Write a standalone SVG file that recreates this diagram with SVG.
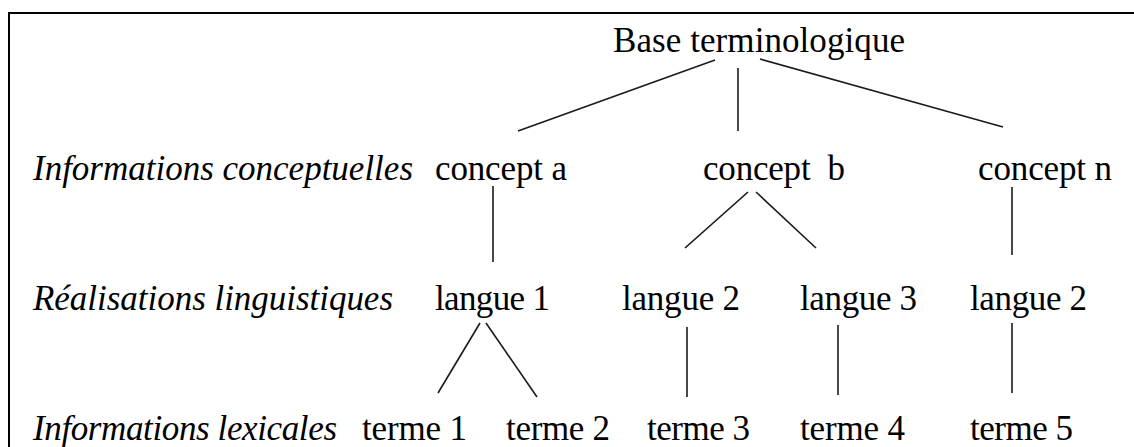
<svg xmlns="http://www.w3.org/2000/svg" width="1134" height="447" viewBox="0 0 1134 447">
<style>
text{font-family:"Liberation Serif","Times New Roman",serif;font-size:35px;fill:#000}
.it{font-style:italic}
.ln{stroke:#1a1a1a;stroke-width:1.6;fill:none}
</style>
<rect x="0" y="0" width="1134" height="447" fill="#fff"/>
<rect x="9" y="13" width="1200" height="500" fill="none" stroke="#000" stroke-width="2"/>
<g id="labels">
<text class="it" x="33" y="180" textLength="380">Informations conceptuelles</text>
<text class="it" x="33" y="310" textLength="360">Réalisations linguistiques</text>
<text class="it" x="33" y="440" textLength="304">Informations lexicales</text>
</g>
<g id="base"><text x="613" y="52" textLength="292">Base terminologique</text></g>
<g id="concept-a"><text x="435" y="180" textLength="132">concept a</text></g>
<g id="concept-b"><text x="703" y="180" textLength="142" xml:space="preserve">concept  b</text></g>
<g id="concept-n"><text x="978" y="180" textLength="134">concept n</text></g>
<g id="langue-1"><text x="435" y="310" textLength="115">langue 1</text></g>
<g id="langue-2a"><text x="622" y="310" textLength="118">langue 2</text></g>
<g id="langue-3"><text x="800" y="310" textLength="117">langue 3</text></g>
<g id="langue-2b"><text x="970" y="310" textLength="117">langue 2</text></g>
<g id="terme-1"><text x="362" y="440" textLength="105">terme 1</text></g>
<g id="terme-2"><text x="506" y="440" textLength="104">terme 2</text></g>
<g id="terme-3"><text x="647" y="440" textLength="103">terme 3</text></g>
<g id="terme-4"><text x="800" y="440" textLength="105">terme 4</text></g>
<g id="terme-5"><text x="970" y="440" textLength="103">terme 5</text></g>
<g id="connectors" class="ln">
<line x1="715" y1="60" x2="518" y2="131"/>
<line x1="738" y1="68" x2="738" y2="131"/>
<line x1="760" y1="59" x2="1003" y2="127"/>
<line x1="493" y1="186" x2="493" y2="262"/>
<line x1="748" y1="192" x2="685" y2="248"/>
<line x1="756" y1="192" x2="816" y2="248"/>
<line x1="1012" y1="187" x2="1012" y2="255"/>
<line x1="480" y1="323" x2="438" y2="393"/>
<line x1="486" y1="323" x2="537" y2="397"/>
<line x1="687" y1="327" x2="687" y2="397"/>
<line x1="838" y1="325" x2="838" y2="395"/>
<line x1="1012" y1="323" x2="1012" y2="393"/>
</g>
</svg>
